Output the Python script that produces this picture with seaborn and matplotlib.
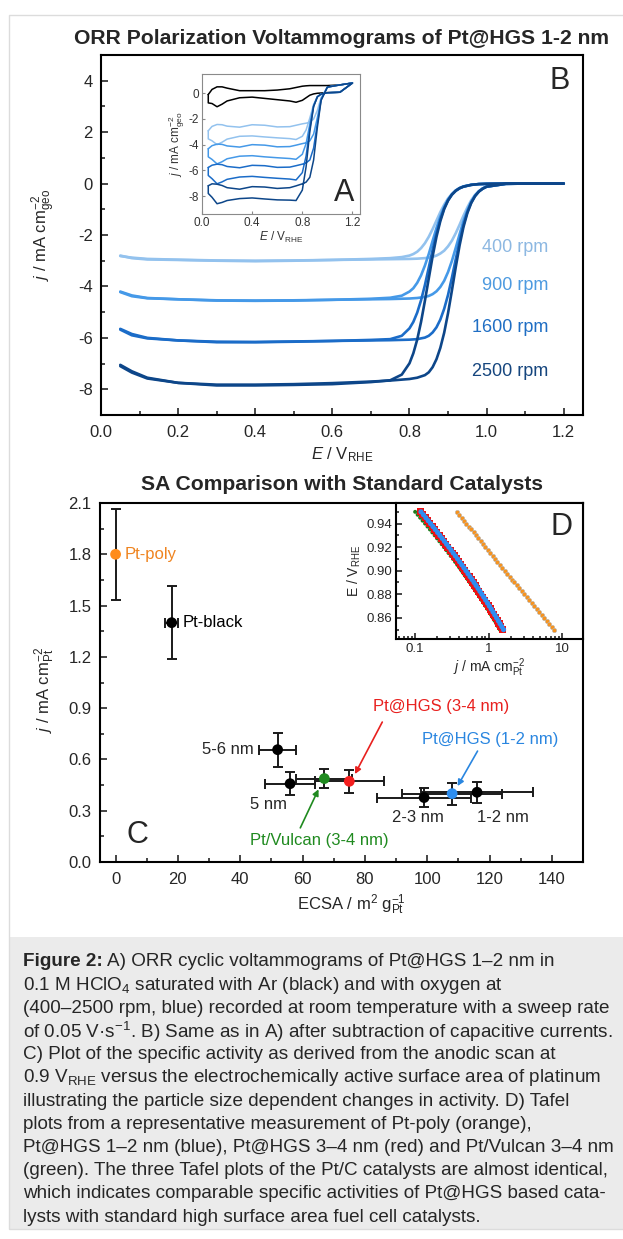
import numpy as np
import pandas as pd
import seaborn as sns
import matplotlib.pyplot as plt
from matplotlib.patches import Rectangle
from matplotlib.ticker import MultipleLocator, FormatStrFormatter, FixedLocator, FixedFormatter, LogLocator, NullFormatter

# ---------------- panel B: ORR polarization curves (capacitive corrected) ----------------
E_cath = [0.05, 0.08, 0.12, 0.2, 0.3, 0.4, 0.5, 0.6, 0.7, 0.75, 0.78, 0.80, 0.81, 0.82, 0.83, 0.84,
          0.85, 0.86, 0.87, 0.88, 0.89, 0.90, 0.91, 0.92, 0.93, 0.94, 0.96, 0.98, 1.0, 1.05, 1.1, 1.2]
j400_cath = [-2.80, -2.90, -2.95, -2.97, -3.00, -3.02, -3.00, -2.97, -2.93, -2.90, -2.86, -2.80, -2.74, -2.65, -2.51, -2.32,
             -2.07, -1.77, -1.44, -1.11, -0.82, -0.58, -0.40, -0.26, -0.17, -0.11, -0.05, -0.02, -0.01, 0.0, 0.0, 0.0]
j900_cath = [-4.20, -4.35, -4.45, -4.50, -4.55, -4.56, -4.55, -4.52, -4.48, -4.44, -4.36, -4.20, -4.07, -3.86, -3.57, -3.19,
             -2.74, -2.23, -1.73, -1.28, -0.91, -0.62, -0.42, -0.27, -0.18, -0.11, -0.05, -0.02, -0.01, 0.0, 0.0, 0.0]
j1600_cath = [-5.65, -5.85, -6.00, -6.10, -6.17, -6.17, -6.15, -6.12, -6.08, -6.05, -5.92, -5.63, -5.38, -5.02, -4.54, -3.95,
              -3.27, -2.58, -1.93, -1.39, -0.96, -0.65, -0.43, -0.28, -0.18, -0.12, -0.05, -0.02, -0.01, 0.0, 0.0, 0.0]
j2500_cath = [-7.05, -7.30, -7.55, -7.75, -7.85, -7.85, -7.83, -7.80, -7.72, -7.65, -7.43, -6.99, -6.60, -6.07, -5.38, -4.56,
              -3.69, -2.83, -2.07, -1.46, -0.99, -0.66, -0.43, -0.28, -0.18, -0.12, -0.05, -0.02, -0.01, 0.0, 0.0, 0.0]

E_anod = [0.05, 0.08, 0.12, 0.2, 0.3, 0.4, 0.5, 0.6, 0.7, 0.75, 0.8, 0.82, 0.84, 0.85, 0.86, 0.87,
          0.88, 0.89, 0.90, 0.91, 0.92, 0.93, 0.94, 0.95, 0.96, 0.97, 0.98, 0.99, 1.0, 1.05, 1.1, 1.2]
j400_anod = [-2.82, -2.88, -2.93, -2.96, -2.99, -3.00, -2.99, -2.97, -2.95, -2.94, -2.93, -2.92, -2.90, -2.88, -2.85, -2.80,
             -2.72, -2.61, -2.44, -2.22, -1.93, -1.60, -1.25, -0.93, -0.65, -0.44, -0.29, -0.19, -0.12, -0.01, 0.0, 0.0]
j900_anod = [-4.22, -4.38, -4.46, -4.50, -4.54, -4.55, -4.54, -4.52, -4.50, -4.49, -4.47, -4.45, -4.41, -4.37, -4.30, -4.19,
             -4.02, -3.78, -3.44, -3.01, -2.50, -1.97, -1.46, -1.04, -0.71, -0.47, -0.30, -0.19, -0.12, -0.01, 0.0, 0.0]
j1600_anod = [-5.68, -5.90, -6.02, -6.10, -6.15, -6.16, -6.14, -6.12, -6.10, -6.09, -6.07, -6.05, -5.99, -5.92, -5.79, -5.59,
              -5.29, -4.87, -4.33, -3.66, -2.94, -2.23, -1.60, -1.11, -0.74, -0.48, -0.31, -0.19, -0.12, -0.01, 0.0, 0.0]
j2500_anod = [-7.10, -7.35, -7.58, -7.75, -7.82, -7.82, -7.80, -7.76, -7.70, -7.66, -7.60, -7.55, -7.45, -7.34, -7.14, -6.83,
              -6.39, -5.80, -5.04, -4.16, -3.25, -2.40, -1.69, -1.15, -0.76, -0.49, -0.31, -0.20, -0.12, -0.01, 0.0, 0.0]

rpm_labels = ["400 rpm", "900 rpm", "1600 rpm", "2500 rpm"]
rpm_label_j = [-2.48, -3.98, -5.6, -7.3]
rpm_colors = ["#93c2ee", "#4599e8", "#1b6cc8", "#0d4689"]
rpm_text_colors = ["#8db8e2", "#4d9ae0", "#1f6ec4", "#16467e"]

# ---------------- panel A: raw cyclic voltammograms ----------------
E_in = [0.05, 0.08, 0.12, 0.16, 0.2, 0.3, 0.4, 0.5, 0.6, 0.7, 0.75, 0.8, 0.83, 0.86, 0.89, 0.92, 0.95, 1.0, 1.1, 1.2]
jAr_up = [-0.1, 0.3, 0.5, 0.5, 0.4, 0.2, 0.2, 0.2, 0.25, 0.35, 0.45, 0.55, 0.58, 0.6, 0.6, 0.6, 0.6, 0.6, 0.65, 0.8]
jAr_down = [-0.75, -0.8, -1.05, -0.85, -0.6, -0.35, -0.3, -0.4, -0.5, -0.6, -0.7, -0.55, -0.35, -0.15, -0.05, 0.0, 0.02, 0.05, 0.08, 0.8]
j400_up = [-2.92, -2.58, -2.43, -2.45, -2.56, -2.64, -2.45, -2.49, -2.62, -2.6, -2.49, -2.38, -2.33, -2.25, -2.01, -1.33, -0.33, 0.48, 0.65, 0.8]
j400_down = [-3.55, -3.7, -4.0, -3.81, -3.57, -3.35, -3.32, -3.4, -3.47, -3.53, -3.6, -3.35, -2.86, -1.92, -0.87, -0.26, -0.06, 0.04, 0.08, 0.8]
j900_up = [-4.32, -4.08, -3.96, -3.98, -4.1, -4.19, -4.0, -4.04, -4.17, -4.15, -4.04, -3.92, -3.86, -3.7, -3.18, -1.9, -0.44, 0.48, 0.65, 0.8]
j900_down = [-4.95, -5.15, -5.5, -5.33, -5.1, -4.9, -4.86, -4.95, -5.02, -5.08, -5.14, -4.75, -3.92, -2.38, -0.96, -0.27, -0.06, 0.04, 0.08, 0.8]
j1600_up = [-5.78, -5.6, -5.52, -5.56, -5.7, -5.8, -5.61, -5.64, -5.77, -5.75, -5.64, -5.52, -5.42, -5.19, -4.27, -2.34, -0.51, 0.48, 0.65, 0.8]
j1600_down = [-6.4, -6.65, -7.05, -6.9, -6.7, -6.52, -6.47, -6.55, -6.62, -6.68, -6.75, -6.18, -4.89, -2.73, -1.01, -0.28, -0.06, 0.04, 0.08, 0.8]
j2500_up = [-7.2, -7.05, -7.08, -7.18, -7.35, -7.47, -7.27, -7.3, -7.41, -7.35, -7.21, -7.05, -6.92, -6.54, -5.2, -2.65, -0.55, 0.48, 0.65, 0.8]
j2500_down = [-7.8, -8.1, -8.6, -8.5, -8.35, -8.2, -8.15, -8.23, -8.3, -8.32, -8.35, -7.54, -5.73, -2.98, -1.04, -0.28, -0.06, 0.04, 0.08, 0.8]

# ---------------- panel C: specific activity vs ECSA ----------------
sa_names = ["Pt-poly", "Pt-black", "5-6 nm", "5 nm", "Pt/Vulcan (3-4 nm)", "Pt@HGS (3-4 nm)", "2-3 nm", "Pt@HGS (1-2 nm)", "1-2 nm"]
ecsa = [0, 18, 52, 56, 67, 75, 99, 108, 116]
ecsa_err = [0, 2, 6, 8, 9, 11, 15, 16, 18]
sa = [1.80, 1.40, 0.657, 0.458, 0.488, 0.472, 0.377, 0.40, 0.408]
sa_err = [0.265, 0.215, 0.10, 0.068, 0.058, 0.068, 0.058, 0.064, 0.062]
sa_colors = ["#ff8c1a", "black", "black", "black", "#1f8a1f", "#f41e1e", "black", "#2d8ef0", "black"]

# ---------------- panel D: Tafel plots ----------------
E_tafel = [0.95, 0.9475, 0.945, 0.9425, 0.94, 0.9375, 0.935, 0.9325, 0.93, 0.9275, 0.925, 0.9225, 0.92, 0.9175,
           0.915, 0.9125, 0.91, 0.9075, 0.905, 0.9025, 0.9, 0.8975, 0.895, 0.8925, 0.89, 0.8875, 0.885, 0.8825,
           0.88, 0.8775, 0.875, 0.8725, 0.87, 0.8675, 0.865, 0.8625, 0.86, 0.8575, 0.855, 0.8525, 0.85]
j_poly = [0.372, 0.400, 0.430, 0.462, 0.497, 0.535, 0.576, 0.620, 0.667, 0.719, 0.774, 0.834, 0.898, 0.968,
          1.043, 1.124, 1.212, 1.307, 1.410, 1.521, 1.641, 1.770, 1.911, 2.062, 2.227, 2.404, 2.597, 2.804,
          3.030, 3.273, 3.538, 3.824, 4.134, 4.470, 4.834, 5.229, 5.656, 6.120, 6.625, 7.171, 7.762]
j_vulcan = [0.1000, 0.1082, 0.1169, 0.1263, 0.1364, 0.1472, 0.1587, 0.1710, 0.1842, 0.1982, 0.2132, 0.2291, 0.2461, 0.2642,
            0.2835, 0.3039, 0.3257, 0.3487, 0.3731, 0.3992, 0.4266, 0.4556, 0.4863, 0.5188, 0.5530, 0.5891, 0.6273, 0.6677,
            0.7098, 0.7545, 0.8012, 0.8502, 0.9020, 0.9561, 1.013, 1.072, 1.134, 1.200, 1.268, 1.339, 1.413]
j_hgs34 = [0.1175, 0.1266, 0.1365, 0.1469, 0.1581, 0.1700, 0.1828, 0.1964, 0.2109, 0.2263, 0.2427, 0.2602, 0.2787, 0.2985,
           0.3194, 0.3416, 0.3652, 0.3902, 0.4167, 0.4446, 0.4742, 0.5053, 0.5384, 0.5734, 0.6104, 0.6492, 0.6901, 0.7327,
           0.7785, 0.8262, 0.8762, 0.9290, 0.9840, 1.042, 1.103, 1.166, 1.233, 1.302, 1.375, 1.452, 1.531]
j_hgs12 = [0.1202, 0.1296, 0.1399, 0.1506, 0.1622, 0.1746, 0.1878, 0.2019, 0.2169, 0.2328, 0.2497, 0.2679, 0.2871, 0.3077,
           0.3294, 0.3524, 0.3769, 0.4028, 0.4303, 0.4591, 0.4898, 0.5220, 0.5564, 0.5927, 0.6312, 0.6714, 0.7138, 0.7581,
           0.8055, 0.8550, 0.9067, 0.9614, 1.018, 1.078, 1.142, 1.207, 1.276, 1.348, 1.423, 1.503, 1.585]

caption_head = "Figure 2:"
caption_lines = [
    "A) ORR cyclic voltammograms of Pt@HGS 1–2 nm in",
    r"0.1 M HClO$_4$ saturated with Ar (black) and with oxygen at",
    "(400–2500 rpm, blue) recorded at room temperature with a sweep rate",
    r"of 0.05 V·s$^{-1}$. B) Same as in A) after subtraction of capacitive currents.",
    "C) Plot of the specific activity as derived from the anodic scan at",
    r"0.9 V$_{\mathrm{RHE}}$ versus the electrochemically active surface area of platinum",
    "illustrating the particle size dependent changes in activity. D) Tafel",
    "plots from a representative measurement of Pt-poly (orange),",
    "Pt@HGS 1–2 nm (blue), Pt@HGS 3–4 nm (red) and Pt/Vulcan 3–4 nm",
    "(green). The three Tafel plots of the Pt/C catalysts are almost identical,",
    "which indicates comparable specific activities of Pt@HGS based cata-",
    "lysts with standard high surface area fuel cell catalysts.",
]

sns.set_style("ticks")
plt.rcParams['font.family'] = ['Liberation Sans', 'DejaVu Sans']
plt.rcParams['mathtext.fontset'] = 'custom'
plt.rcParams['mathtext.rm'] = 'Liberation Sans'
plt.rcParams['mathtext.it'] = 'Liberation Sans:italic'
plt.rcParams['mathtext.bf'] = 'Liberation Sans:bold'
plt.rcParams['axes.unicode_minus'] = False

W, H = 623, 1239
def box(l, t, r, b):
    return [l / W, 1 - b / H, (r - l) / W, (b - t) / H]

fig = plt.figure(figsize=(6.23, 12.39), dpi=100)
# outer frame and caption box
fig.patches.append(Rectangle((9 / W, 1 - 1229 / H), 1.0, (1229 - 15) / H, transform=fig.transFigure,
                             facecolor="none", edgecolor="#dcdcdc", lw=1.0, zorder=-5))
fig.patches.append(Rectangle((9.5 / W, 1 - 1229 / H), 1.0, (1229 - 937) / H, transform=fig.transFigure,
                             facecolor="#ebebeb", edgecolor="none", zorder=-6))

def style(ax, lw=1.5, size=12, major=5, minor=3):
    for s in ax.spines.values():
        s.set_linewidth(lw)
        s.set_color("black")
    ax.tick_params(direction="in", which="both", width=1.2, labelsize=size, top=False, right=False)
    ax.tick_params(which="major", length=major)
    ax.tick_params(which="minor", length=minor)

# ---------- B ----------
axB = fig.add_axes(box(101, 55, 583, 415))
for jc, ja, c in zip([j400_cath, j900_cath, j1600_cath, j2500_cath],
                     [j400_anod, j900_anod, j1600_anod, j2500_anod], rpm_colors):
    sns.lineplot(x=E_cath, y=jc, ax=axB, color=c, lw=1.9, sort=False, estimator=None)
    sns.lineplot(x=E_anod, y=ja, ax=axB, color=c, lw=1.9, sort=False, estimator=None)
for lab, yj, c in zip(rpm_labels, rpm_label_j, rpm_text_colors):
    axB.text(1.16, yj, lab, color=c, fontsize=13, ha="right", va="center")
axB.text(1.19, 4.0, "B", fontsize=22, ha="center", va="center")
axB.set_xlim(0, 1.25)
axB.set_ylim(-9, 5)
axB.xaxis.set_major_locator(MultipleLocator(0.2))
axB.xaxis.set_minor_locator(MultipleLocator(0.1))
axB.yaxis.set_major_locator(FixedLocator([-8, -6, -4, -2, 0, 2, 4]))
axB.yaxis.set_minor_locator(MultipleLocator(1))
axB.xaxis.set_major_formatter(FormatStrFormatter("%.1f"))
axB.yaxis.set_major_formatter(FormatStrFormatter("%d"))
style(axB)
axB.tick_params(axis="x", pad=7)
axB.tick_params(axis="y", pad=6)
axB.set_xlabel(r"$E$ / V$_{\mathrm{RHE}}$", fontsize=12)
axB.set_ylabel(r"$j$ / mA cm$^{-2}_{\mathrm{geo}}$", fontsize=12)
axB.xaxis.set_label_coords(0.5, -0.085)
axB.yaxis.set_label_coords(-0.09, 0.5)

# ---------- A (inset) ----------
axA = fig.add_axes(box(202, 74, 360, 214))
loops = [(jAr_up, jAr_down, "black"), (j400_up, j400_down, rpm_colors[0]), (j900_up, j900_down, rpm_colors[1]),
         (j1600_up, j1600_down, rpm_colors[2]), (j2500_up, j2500_down, rpm_colors[3])]
for up, down, c in loops:
    xs = E_in + E_in[::-1] + [E_in[0]]
    ys = up + down[::-1] + [up[0]]
    sns.lineplot(x=xs, y=ys, ax=axA, color=c, lw=1.1, sort=False, estimator=None)
axA.text(1.13, -7.8, "A", fontsize=22, ha="center", va="center")
axA.set_xlim(0, 1.26)
axA.set_ylim(-9.4, 1.5)
axA.xaxis.set_major_locator(FixedLocator([0.0, 0.4, 0.8, 1.2]))
axA.yaxis.set_major_locator(FixedLocator([-8, -6, -4, -2, 0]))
axA.xaxis.set_major_formatter(FormatStrFormatter("%.1f"))
axA.yaxis.set_major_formatter(FormatStrFormatter("%d"))
for s in axA.spines.values():
    s.set_linewidth(0.8)
    s.set_color("#8a8a8a")
axA.tick_params(direction="in", length=2.5, width=0.8, color="#8a8a8a", labelsize=8.5,
                labelcolor="#333333", pad=2)
axA.set_xlabel(r"$E$ / V$_{\mathrm{RHE}}$", fontsize=8.5, color="#333333", labelpad=1)
axA.set_ylabel(r"$j$ / mA cm$^{-2}_{\mathrm{geo}}$", fontsize=8.5, color="#333333", labelpad=1)

# ---------- C ----------
axC = fig.add_axes(box(100, 503, 583, 862))
axC.errorbar(ecsa, sa, xerr=ecsa_err, yerr=sa_err, fmt="none", ecolor="#1a1a1a",
             elinewidth=1.4, capsize=3.5, capthick=1.4, zorder=2)
sns.scatterplot(x=ecsa, y=sa, hue=sa_names, palette=dict(zip(sa_names, sa_colors)), s=60,
                edgecolor="none", legend=False, ax=axC, zorder=3)
axC.text(3, 1.80, "Pt-poly", color="#ef8420", fontsize=12, ha="left", va="center")
axC.text(21.4, 1.40, "Pt-black", color="black", fontsize=12, ha="left", va="center")
axC.text(44.5, 0.66, "5-6 nm", fontsize=12, ha="right", va="center")
axC.text(49, 0.337, "5 nm", fontsize=12, ha="center", va="center")
axC.text(96.9, 0.26, "2-3 nm", fontsize=12, ha="center", va="center")
axC.text(124.3, 0.26, "1-2 nm", fontsize=12, ha="center", va="center")
axC.text(65.3, 0.123, "Pt/Vulcan (3-4 nm)", color="#1f8a1f", fontsize=12, ha="center", va="center")
axC.text(104.5, 0.91, "Pt@HGS (3-4 nm)", color="#e8201e", fontsize=12, ha="center", va="center")
axC.text(120.2, 0.716, "Pt@HGS (1-2 nm)", color="#2a86e0", fontsize=12, ha="center", va="center")
axC.annotate("", xy=(76.4, 0.50), xytext=(86, 0.833),
             arrowprops=dict(arrowstyle="-|>", color="#e8201e", lw=1.2, mutation_scale=9))
axC.annotate("", xy=(109.3, 0.43), xytext=(116.6, 0.663),
             arrowprops=dict(arrowstyle="-|>", color="#2a86e0", lw=1.2, mutation_scale=9))
axC.annotate("", xy=(65.5, 0.44), xytext=(58.9, 0.185),
             arrowprops=dict(arrowstyle="-|>", color="#1f8a1f", lw=1.2, mutation_scale=9))
axC.text(7.1, 0.16, "C", fontsize=22, ha="center", va="center")
axC.set_xlim(-5, 150)
axC.set_ylim(0, 2.1)
axC.xaxis.set_major_locator(MultipleLocator(20))
axC.xaxis.set_minor_locator(MultipleLocator(10))
axC.yaxis.set_major_locator(MultipleLocator(0.3))
axC.yaxis.set_minor_locator(MultipleLocator(0.15))
axC.yaxis.set_major_formatter(FormatStrFormatter("%.1f"))
axC.xaxis.set_major_formatter(FormatStrFormatter("%d"))
style(axC)
axC.tick_params(axis="x", pad=7)
axC.tick_params(axis="y", pad=6)
axC.set_xlabel(r"ECSA / m$^{2}$ g$^{-1}_{\mathrm{Pt}}$", fontsize=12)
axC.set_ylabel(r"$j$ / mA cm$^{-2}_{\mathrm{Pt}}$", fontsize=12)
axC.xaxis.set_label_coords(0.52, -0.085)
axC.yaxis.set_label_coords(-0.09, 0.48)

# ---------- D (inset) ----------
axD = fig.add_axes(box(396, 503, 583, 639))
sns.scatterplot(x=j_poly, y=E_tafel, ax=axD, color="#f7931e", s=10, edgecolor="#b8b8b8", linewidth=0.4)
sns.scatterplot(x=j_vulcan, y=E_tafel, ax=axD, color="#1e7d1e", s=8, edgecolor="none")
sns.scatterplot(x=j_hgs34, y=E_tafel, ax=axD, color="#f01010", s=26, marker="s", edgecolor="none")
sns.scatterplot(x=j_hgs12, y=E_tafel, ax=axD, color="#2e8ef2", s=14, edgecolor="none")
axD.set_xscale("log")
axD.set_xlim(0.055, 19)
axD.set_ylim(0.842, 0.9575)
axD.xaxis.set_major_locator(FixedLocator([0.1, 1, 10]))
axD.xaxis.set_major_formatter(FixedFormatter(["0.1", "1", "10"]))
axD.xaxis.set_minor_locator(LogLocator(base=10, subs=np.arange(2, 10)))
axD.xaxis.set_minor_formatter(NullFormatter())
axD.yaxis.set_major_locator(FixedLocator([0.86, 0.88, 0.90, 0.92, 0.94]))
axD.yaxis.set_minor_locator(MultipleLocator(0.01))
axD.yaxis.set_major_formatter(FormatStrFormatter("%.2f"))
style(axD, lw=1.5, size=9.5, major=4, minor=2)
axD.tick_params(pad=3)
axD.text(0.886, 0.822, "D", transform=axD.transAxes, fontsize=22, ha="center", va="center")
axD.set_xlabel(r"$j$ / mA cm$^{-2}_{\mathrm{Pt}}$", fontsize=10, labelpad=1)
axD.set_ylabel(r"E / V$_{\mathrm{RHE}}$", fontsize=10, labelpad=2)

# titles
fig.text(342 / W, 1 - 39 / H, "ORR Polarization Voltammograms of Pt@HGS 1-2 nm", fontsize=15.2,
         fontweight="bold", ha="center", va="center")
fig.text(342 / W, 1 - 485 / H, "SA Comparison with Standard Catalysts", fontsize=15.2,
         fontweight="bold", ha="center", va="center")

# caption
cap_size = 13.6
renderer = fig.canvas.get_renderer()
head = fig.text(23 / W, 1 - 962 / H, caption_head, fontsize=cap_size, fontweight="bold", ha="left", va="center")
head_w = head.get_window_extent(renderer).width
for i, line in enumerate(caption_lines):
    x0 = 23 + (head_w + 4 if i == 0 else 0)
    fig.text(x0 / W, 1 - (962 + 23.2 * i) / H, line, fontsize=cap_size, ha="left", va="center")

fig.savefig("out.png", dpi=100)
